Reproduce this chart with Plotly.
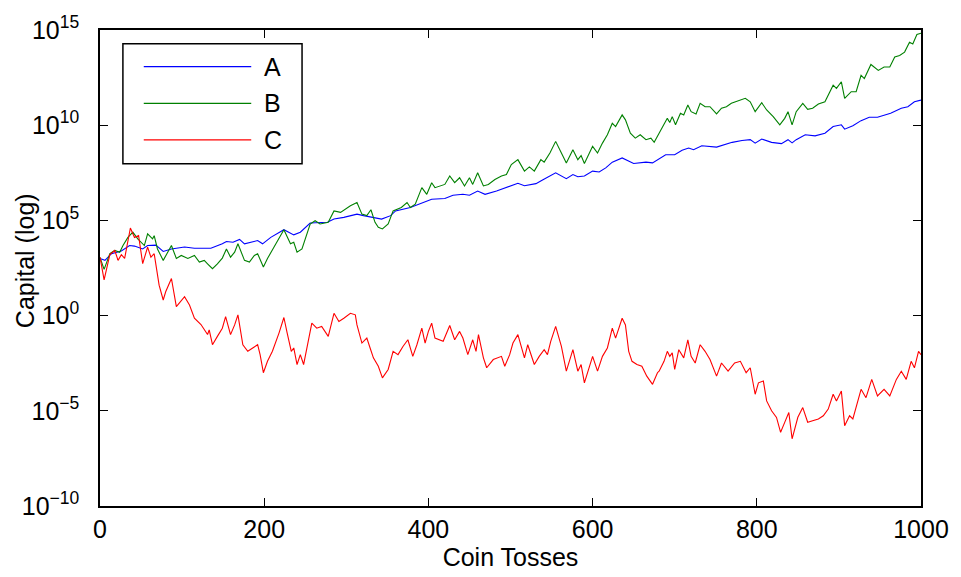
import plotly.graph_objects as go

# ---- data (capital given as log10 exponent) ----
toss_a = [0, 6, 14, 26, 36, 42, 52, 58, 68, 77, 87, 103, 115, 135, 149, 154, 162, 170, 176, 192,
          198, 208, 224, 236, 244, 256, 277, 285, 297, 313, 321, 333, 343, 354, 360, 378, 394, 404,
          420, 430, 442, 450, 460, 469, 483, 495, 503, 509, 517, 531, 539, 555, 568, 576, 582, 590,
          600, 608, 616, 624, 636, 642, 650, 665, 673, 689, 700, 709, 717, 723, 733, 751, 770, 782,
          792, 798, 806, 818, 830, 838, 843, 848, 859, 871, 883, 893, 903, 907, 917, 927, 937, 947,
          963, 976, 984, 992, 1000]
log_a = [3.0, 2.9, 3.25, 3.39, 3.68, 3.65, 3.5, 3.68, 3.7, 3.37, 3.5, 3.6, 3.54, 3.54, 3.77, 3.89,
         3.85, 4.0, 3.77, 3.94, 3.77, 4.11, 4.51, 4.24, 4.38, 4.86, 4.9, 5.07, 5.16, 5.33, 5.25, 5.16,
         5.07, 5.25, 5.5, 5.68, 5.97, 6.11, 6.15, 6.32, 6.37, 6.32, 6.54, 6.37, 6.54, 6.72, 6.84, 6.95,
         6.82, 6.93, 7.12, 7.5, 7.19, 7.41, 7.29, 7.33, 7.59, 7.54, 7.76, 8.06, 8.28, 8.16, 7.99, 8.06,
         8.02, 8.45, 8.45, 8.68, 8.8, 8.71, 8.92, 8.85, 9.1, 9.2, 9.24, 9.06, 9.27, 9.1, 9.03, 9.24,
         9.07, 9.24, 9.5, 9.44, 9.58, 9.93, 10.02, 9.79, 9.97, 10.24, 10.42, 10.42, 10.63, 10.89,
         10.97, 11.23, 11.32]

toss_b = [0, 5, 12, 18, 24, 28, 34, 40, 46, 54, 58, 64, 66, 70, 77, 82, 87, 93, 99, 107, 115, 121,
          127, 131, 137, 143, 149, 154, 159, 164, 168, 176, 182, 188, 192, 199, 204, 212, 224, 232,
          236, 240, 246, 256, 262, 268, 278, 285, 293, 305, 313, 319, 325, 330, 335, 339, 344, 351,
          357, 367, 374, 378, 384, 392, 398, 404, 408, 420, 426, 432, 438, 444, 450, 454, 460, 467,
          473, 481, 489, 495, 501, 509, 517, 523, 529, 537, 541, 548, 555, 562, 568, 576, 582, 586,
          590, 600, 606, 612, 618, 624, 628, 636, 640, 646, 652, 658, 665, 671, 675, 681, 691, 694,
          697, 701, 707, 711, 716, 720, 726, 731, 737, 743, 751, 757, 763, 769, 780, 786, 792, 798,
          806, 812, 820, 828, 834, 838, 843, 848, 856, 862, 868, 875, 883, 893, 897, 903, 907, 915,
          921, 927, 931, 939, 948, 955, 962, 968, 974, 980, 986, 990, 995, 1000]
log_b = [3.05, 2.43, 3.25, 3.42, 3.33, 3.68, 4.11, 4.38, 4.03, 3.68, 4.29, 4.03, 4.2, 3.5, 2.9, 3.33,
         3.68, 3.0, 3.16, 3.0, 3.16, 2.81, 2.9, 2.72, 2.46, 2.72, 3.02, 3.5, 3.07, 3.33, 3.77, 2.9,
         2.81, 3.16, 3.25, 2.55, 3.0, 3.6, 4.51, 3.77, 3.85, 3.33, 3.5, 4.81, 4.98, 4.81, 4.9, 5.5,
         5.42, 5.77, 5.94, 5.33, 5.25, 5.56, 4.9, 4.64, 4.55, 4.81, 5.5, 5.68, 5.94, 5.68, 5.85, 6.72,
         6.37, 6.98, 6.72, 6.89, 7.33, 6.98, 7.24, 6.81, 7.24, 6.89, 7.5, 6.81, 6.89, 7.15, 7.33, 7.41,
         7.93, 8.19, 7.59, 7.81, 7.59, 8.19, 8.06, 8.54, 9.15, 8.54, 8.02, 8.71, 8.19, 8.4, 7.99, 8.89,
         8.54, 9.06, 9.5, 10.1, 9.93, 10.54, 10.28, 9.58, 9.32, 9.5, 9.24, 9.32, 9.1, 9.58, 10.36,
         10.14, 10.45, 10.02, 10.63, 10.54, 11.06, 10.71, 10.59, 11.15, 10.97, 10.97, 10.59, 10.89,
         10.97, 11.15, 11.32, 11.41, 11.23, 10.71, 11.18, 10.8, 10.45, 10.02, 10.36, 10.71, 10.02,
         10.71, 11.15, 10.83, 10.89, 11.11, 11.23, 12.1, 11.93, 12.28, 11.41, 11.76, 11.76, 12.62,
         12.45, 13.19, 12.88, 13.06, 13.06, 13.58, 13.66, 13.84, 14.36, 14.27, 14.76, 14.83]

toss_c = [0, 5, 12, 18, 22, 26, 30, 37, 42, 47, 52, 58, 62, 66, 72, 77, 80, 87, 93, 99, 103, 109,
          115, 123, 127, 131, 133, 137, 143, 149, 153, 159, 164, 168, 174, 180, 186, 192, 195, 199,
          204, 210, 218, 224, 228, 233, 236, 240, 244, 248, 258, 264, 270, 278, 285, 291, 297, 305,
          311, 313, 319, 325, 329, 333, 339, 344, 351, 357, 363, 369, 375, 381, 386, 392, 396, 400,
          404, 408, 418, 426, 432, 438, 442, 448, 454, 458, 461, 467, 471, 479, 489, 493, 499, 503,
          509, 517, 521, 529, 535, 541, 545, 549, 555, 562, 568, 576, 582, 586, 590, 600, 606, 612,
          618, 624, 628, 636, 640, 644, 648, 654, 660, 666, 673, 679, 681, 687, 691, 694, 697, 700,
          705, 711, 716, 720, 725, 731, 737, 743, 751, 757, 765, 773, 780, 787, 792, 798, 802, 808,
          812, 818, 824, 829, 834, 839, 843, 848, 850, 856, 862, 868, 875, 881, 887, 893, 897, 903,
          907, 913, 917, 927, 933, 940, 947, 955, 962, 970, 976, 982, 988, 992, 997, 1000]
log_c = [3.07, 1.875, 3.2, 3.42, 2.9, 3.2, 3.0, 4.6, 4.1, 4.2, 2.73, 3.6, 3.07, 3.25, 1.6, 0.82,
         1.25, 1.95, 0.47, 0.82, 0.99, 0.56, -0.14, -0.47, -0.75, -0.99, -0.75, -1.53, -1.09, -0.66,
         -0.05, -1.0, -0.49, 0.04, -1.53, -1.875, -1.7, -1.53, -2.05, -3.0, -2.4, -1.875, -0.92,
         -0.1, -0.92, -1.875, -1.7, -2.57, -2.05, -2.57, -0.4, -0.66, -0.57, -1.09, 0.12, -0.31,
         -0.14, 0.12, 0.04, -0.49, -1.44, -1.18, -1.7, -2.22, -2.66, -3.27, -2.83, -1.875, -2.05,
         -1.62, -1.27, -2.14, -1.53, -0.66, -1.44, -0.83, -0.4, -1.18, -1.35, -0.52, -1.27, -0.83,
         -1.18, -2.05, -1.27, -1.875, -1.0, -2.22, -2.74, -2.31, -2.14, -2.66, -2.05, -1.44, -1.0,
         -2.22, -1.53, -2.57, -2.14, -1.79, -2.05, -1.35, -0.57, -1.62, -2.92, -1.79, -2.92, -2.57,
         -3.53, -2.14, -2.92, -2.14, -1.7, -0.66, -1.18, -0.14, -0.49, -1.875, -2.4, -2.57, -2.66,
         -3.18, -3.61, -3.0, -2.92, -2.4, -1.875, -2.14, -1.96, -2.83, -1.79, -2.22, -1.27, -2.14,
         -2.49, -1.53, -1.875, -2.31, -3.18, -2.49, -2.92, -2.49, -2.4, -3.0, -2.74, -4.13, -3.53,
         -3.44, -4.48, -5.0, -5.35, -6.13, -5.61, -5.09, -6.47, -5.69, -5.34, -4.83, -5.6, -5.52,
         -5.43, -5.26, -4.91, -4.13, -4.48, -3.96, -5.78, -5.26, -5.43, -3.87, -4.31, -3.35, -4.22,
         -3.87, -4.22, -3.35, -2.92, -3.35, -2.4, -2.74, -1.875, -2.05]

series_names = ["A", "B", "C"]
series_colors = ["#0000FF", "#008000", "#FF0000"]

x_tick_vals = [0, 200, 400, 600, 800, 1000]
y_tick_exps = [-10, -5, 0, 5, 10, 15]
y_tick_text = ["10<sup>\u221210</sup>", "10<sup>\u22125</sup>", "10<sup>0</sup>",
               "10<sup>5</sup>", "10<sup>10</sup>", "10<sup>15</sup>"]

FONT = "Liberation Sans, Arial, sans-serif"
FS = 25

fig = go.Figure()
for name, color, xs, ls in zip(series_names, series_colors,
                               [toss_a, toss_b, toss_c], [log_a, log_b, log_c]):
    fig.add_trace(go.Scatter(x=xs, y=[10 ** v for v in ls], mode="lines", name=name,
                             line=dict(color=color, width=1.1), showlegend=False))

# manual MATLAB-style legend
fig.add_shape(type="rect", xref="paper", yref="paper", x0=0.0279, x1=0.2461, y0=0.719, y1=0.971,
              line=dict(color="black", width=1.5), fillcolor="white", layer="above")
leg_y = [0.923, 0.846, 0.769]
for name, color, yy in zip(series_names, series_colors, leg_y):
    fig.add_shape(type="line", xref="paper", yref="paper", x0=0.0533, x1=0.1842, y0=yy, y1=yy,
                  line=dict(color=color, width=1.3), layer="above")
    fig.add_annotation(xref="paper", yref="paper", x=0.197, y=yy, text=name, showarrow=False,
                       xanchor="left", yanchor="middle", font=dict(family=FONT, size=FS, color="black"))

# y-axis title (overlapping tick labels as in the reference)
fig.add_annotation(xref="paper", yref="paper", x=-0.091, y=0.515, text="Capital (log)",
                   textangle=-90, showarrow=False, xanchor="center", yanchor="middle",
                   font=dict(family=FONT, size=FS, color="black"))

fig.update_xaxes(range=[0, 1000], tickvals=x_tick_vals, ticks="inside", ticklen=8,
                 tickcolor="black", showline=True, linecolor="black", linewidth=1.5,
                 mirror="ticks", showgrid=False, zeroline=False,
                 tickfont=dict(family=FONT, size=FS, color="black"),
                 title=dict(text="Coin Tosses", font=dict(family=FONT, size=FS, color="black"),
                            standoff=4))
fig.update_yaxes(type="log", range=[-10, 15], tickvals=[10 ** e for e in y_tick_exps],
                 ticktext=y_tick_text, ticks="inside", ticklen=8, tickcolor="black",
                 showline=True, linecolor="black", linewidth=1.5, mirror="ticks",
                 showgrid=False, zeroline=False, ticklabelstandoff=14,
                 tickfont=dict(family=FONT, size=FS, color="black"))

fig.update_layout(width=961, height=577, margin=dict(l=100, r=36, t=26, b=71),
                  plot_bgcolor="white", paper_bgcolor="white", showlegend=False)

fig.write_html("out.html")
